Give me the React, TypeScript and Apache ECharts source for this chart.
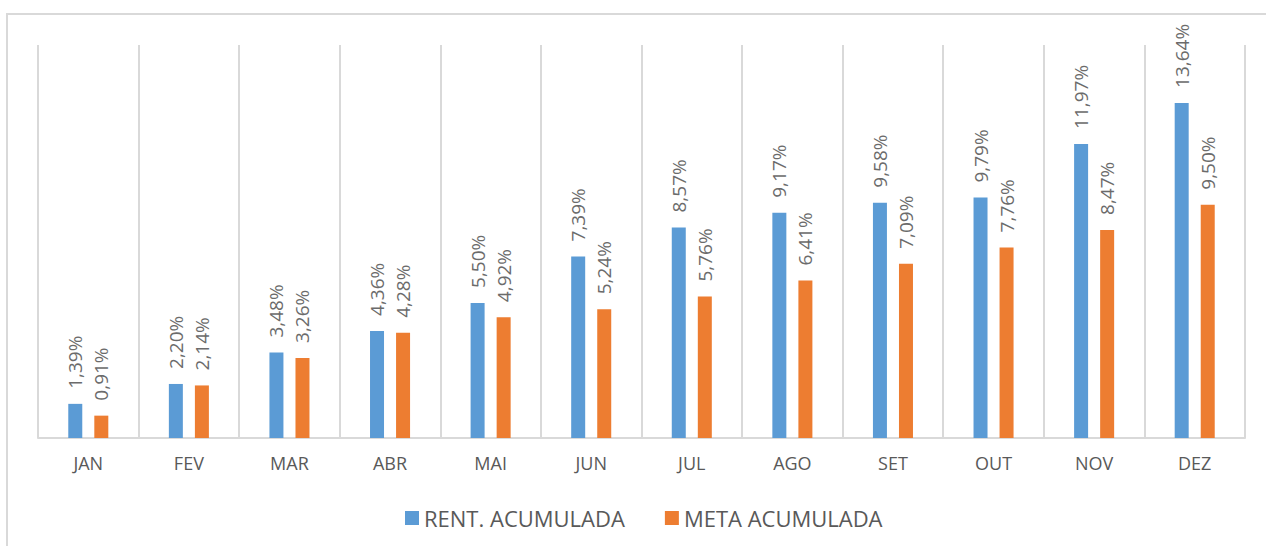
import React, { useEffect, useRef } from "react";
import * as echarts from "echarts";

const categories = ["JAN", "FEV", "MAR", "ABR", "MAI", "JUN", "JUL", "AGO", "SET", "OUT", "NOV", "DEZ"];
const rentAcumulada = [1.39, 2.2, 3.48, 4.36, 5.5, 7.39, 8.57, 9.17, 9.58, 9.79, 11.97, 13.64];
const metaAcumulada = [0.91, 2.14, 3.26, 4.28, 4.92, 5.24, 5.76, 6.41, 7.09, 7.76, 8.47, 9.5];
const seriesNames = ["RENT. ACUMULADA", "META ACUMULADA"];

const FONT = "'Open Sans', 'Noto Sans', sans-serif";
const fmt = (v: number) => v.toFixed(2).replace(".", ",") + "%";

export default function App() {
  const ref = useRef<HTMLDivElement>(null);
  useEffect(() => {
    if (!ref.current) return;
    const chart = echarts.init(ref.current, undefined, { renderer: "svg" });
    const label = {
      show: true,
      position: "top" as const,
      rotate: 90,
      align: "left" as const,
      verticalAlign: "middle" as const,
      distance: 15,
      color: "#6b6b6b",
      fontSize: 19,
      fontFamily: FONT,
      formatter: (p: any) => fmt(p.value),
    };
    chart.setOption({
      animation: false,
      backgroundColor: "#ffffff",
      graphic: [
        {
          type: "rect",
          shape: { x: 7, y: 14, width: 1300, height: 600 },
          style: { fill: "none", stroke: "#d9d9d9", lineWidth: 2 },
          silent: true,
        },
      ],
      grid: { left: 38, right: 21, top: 45, bottom: 108 },
      legend: {
        data: seriesNames,
        left: 400,
        top: 502,
        itemWidth: 14,
        itemHeight: 14,
        itemGap: 40,
        icon: "rect",
        textStyle: { fontSize: 22, color: "#595959", fontFamily: FONT },
      },
      xAxis: {
        type: "category",
        data: categories,
        axisLine: { lineStyle: { color: "#d9d9d9", width: 2 } },
        axisTick: { show: false },
        splitLine: { show: true, lineStyle: { color: "#d9d9d9", width: 2 } },
        axisLabel: { color: "#595959", fontSize: 18, fontFamily: FONT, margin: 16 },
      },
      yAxis: {
        type: "value",
        min: 0,
        max: 16,
        show: false,
        splitLine: { show: false },
      },
      series: [
        {
          name: seriesNames[0],
          type: "bar",
          data: rentAcumulada,
          barWidth: 14,
          barGap: "86%",
          itemStyle: { color: "#5B9BD5" },
          label,
        },
        {
          name: seriesNames[1],
          type: "bar",
          data: metaAcumulada,
          barWidth: 14,
          itemStyle: { color: "#ED7D31" },
          label,
        },
      ],
    });
    return () => chart.dispose();
  }, []);
  return (
    <div
      ref={ref}
      style={{ position: "fixed", left: 0, top: 0, width: 1266, height: 546 }}
    />
  );
}
